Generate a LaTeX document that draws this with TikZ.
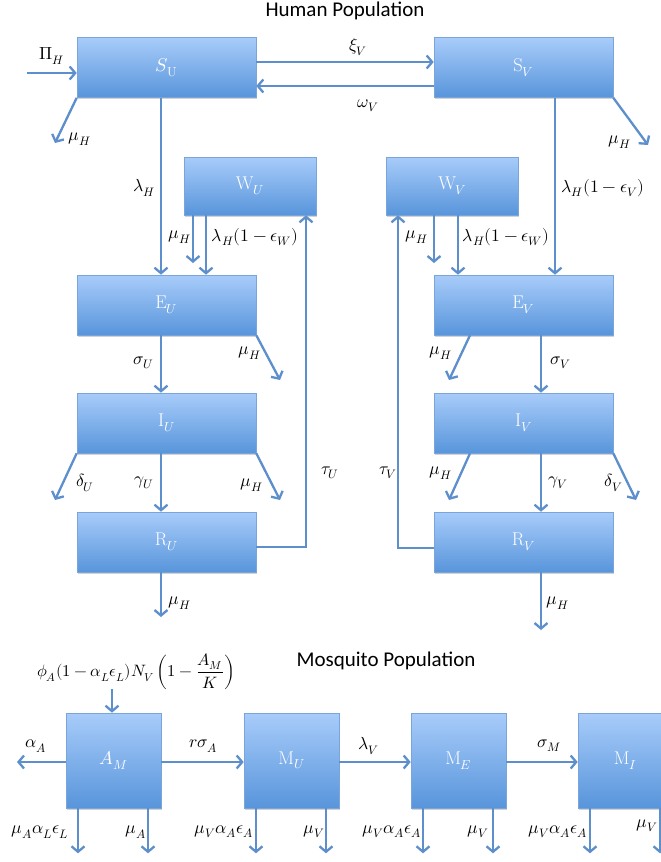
\documentclass[tikz,border=0pt]{standalone}
\usepackage{fontspec}
\usepackage{unicode-math}
\setmathfont{Latin Modern Math}
\newfontfamily\carlito{Carlito}
\usetikzlibrary{arrows.meta,shadows,calc}
\definecolor{boxtop}{HTML}{A8CCFA}
\definecolor{boxbot}{HTML}{5895DB}
\definecolor{boxborder}{HTML}{7AA5DA}
\definecolor{arrc}{HTML}{5C8FCB}
\newcommand\bxfont{\fontsize{18.5}{20}\selectfont}
\newcommand\lbfont{\fontsize{17.5}{19}\selectfont}
\newcommand\fmfont{\fontsize{16.5}{18}\selectfont}
\newcommand\ttlfont{\carlito\fontsize{21}{23}\selectfont}
\begin{document}
\begin{tikzpicture}[x=1pt,y=-1pt,
  box/.style={draw=boxborder, line width=0.6pt, top color=boxtop, bottom color=boxbot,
    minimum width=179pt, minimum height=60pt, inner sep=0pt, font=\bxfont, text=white,
    drop shadow={shadow xshift=0.8pt, shadow yshift=-1.5pt, opacity=0.35}},
  sbox/.style={box, minimum width=132pt, minimum height=58pt},
  mbox/.style={box, minimum width=95pt, minimum height=95pt},
  arr/.style={draw=arrc, line width=2.3pt, -{Straight Barb[length=5.5pt,width=13pt]}},
  lab/.style={font=\lbfont, inner sep=0pt},
  ttl/.style={font=\ttlfont, inner sep=0pt}]
\useasboundingbox (0,0) rectangle (661,862);
\fill[white] (0,0) rectangle (661,862);

% titles
\node[ttl] (t1) at (345,11) {Human Population};
\node[ttl] (t2) at (386,661) {Mosquito Population};

% human boxes
\node[box] (SU) at (166.5,67.5) {$S_{\mathrm{U}}$};
\node[box] (SV) at (523.5,67.5) {S$_V$};
\node[sbox] (WU) at (250,186) {W$_U$};
\node[sbox] (WV) at (452.5,186) {W$_V$};
\node[box] (EU) at (166.5,305) {E$_U$};
\node[box] (EV) at (523.5,305) {E$_V$};
\node[box] (IU) at (166.5,423) {I$_U$};
\node[box] (IV) at (523.5,423) {I$_V$};
\node[box] (RU) at (166.5,542) {R$_U$};
\node[box] (RV) at (523.5,542) {R$_V$};

% mosquito boxes
\node[mbox] (AM) at (113.5,760.5) {$A_M$};
\node[mbox] (MU) at (291.5,760.5) {M$_U$};
\node[mbox] (ME) at (458.5,760.5) {M$_E$};
\node[mbox] (MI) at (625.5,760.5) {M$_I$};

% free ends
\coordinate (pin) at (27,73);
\coordinate (muSU) at (55,143);
\coordinate (muSV) at (648,145);
\coordinate (muWU) at (193,263);
\coordinate (muWV) at (434,263);
\coordinate (muEU) at (280,380);
\coordinate (muEV) at (449,380);
\coordinate (deIU) at (55,500);
\coordinate (muIU) at (280,500);
\coordinate (muIV) at (449,500);
\coordinate (deIV) at (636,500);
\coordinate (muRU) at (161,617);
\coordinate (muRV) at (541,630);
\coordinate (phi) at (112,689);
\coordinate (alA) at (17,762);

% human connectors
\draw[arr] (pin) -- (pin -| SU.west);
\draw[arr] ([yshift=5.5pt]SU.east) -- ([yshift=5.5pt]SU.east -| SV.west);
\draw[arr] ([yshift=-18.5pt]SV.west) -- ([yshift=-18.5pt]SV.west -| SU.east);
\draw[arr] (SU.south west) -- (muSU);
\draw[arr] (SV.south east) -- (muSV);
\draw[arr] ([xshift=-5.5pt]SU.south) -- ([xshift=-5.5pt]EU.north);
\draw[arr] ([xshift=31.5pt]SV.south) -- ([xshift=31.5pt]EV.north);
\draw[arr] ([xshift=-57pt]WU.south) -- (muWU);
\draw[arr] ([xshift=-44pt]WU.south) -- ([xshift=-44pt]WU.south |- EU.north);
\draw[arr] ([xshift=-18.5pt]WV.south) -- (muWV);
\draw[arr] ([xshift=5.5pt]WV.south) -- ([xshift=5.5pt]WV.south |- EV.north);
\draw[arr] (EU.south east) -- (muEU);
\draw[arr] ([xshift=-53.5pt]EV.south) -- (muEV);
\draw[arr] ([xshift=-5.5pt]EU.south) -- ([xshift=-5.5pt]IU.north);
\draw[arr] ([xshift=17.5pt]EV.south) -- ([xshift=17.5pt]IV.north);
\draw[arr] (IU.south west) -- (deIU);
\draw[arr] (IU.south east) -- (muIU);
\draw[arr] ([xshift=-5.5pt]IU.south) -- ([xshift=-5.5pt]RU.north);
\draw[arr] ([xshift=-53.5pt]IV.south) -- (muIV);
\draw[arr] (IV.south east) -- (deIV);
\draw[arr] ([xshift=17.5pt]IV.south) -- ([xshift=17.5pt]RV.north);
\draw[arr] ([xshift=-5.5pt]RU.south) -- (muRU);
\draw[arr] ([xshift=17.5pt]RV.south) -- (muRV);
\draw[arr] ([yshift=-5pt]RU.east) -| ([xshift=56pt]WU.south);
\draw[arr] ([yshift=-6pt]RV.west) -| ([xshift=-54.5pt]WV.south);

% human labels
\node[lab] (lPi) at (52,56) {$\Pi_H$};
\node[lab] (lxi) at (358,47) {$\xi_V$};
\node[lab] (lom) at (368,106) {$\omega_V$};
\node[lab] (l1) at (80,139) {$\mu_H$};
\node[lab] (l2) at (620,142) {$\mu_H$};
\node[lab] (l3) at (144,188) {$\lambda_H$};
\node[lab] (l4) at (603,188) {$\lambda_H(1-\epsilon_V)$};
\node[lab] (l5) at (180,237) {$\mu_H$};
\node[lab] (l6) at (255,237) {$\lambda_H(1-\epsilon_W)$};
\node[lab] (l7) at (417,237) {$\mu_H$};
\node[lab] (l8) at (506,237) {$\lambda_H(1-\epsilon_W)$};
\node[lab] (l9) at (250,353) {$\mu_H$};
\node[lab] (l10) at (441,353) {$\mu_H$};
\node[lab] (l11) at (144,363) {$\sigma_U$};
\node[lab] (l12) at (561,363) {$\sigma_V$};
\node[lab] (l13) at (85,483) {$\delta_U$};
\node[lab] (l14) at (144,483) {$\gamma_U$};
\node[lab] (l15) at (252,485) {$\mu_H$};
\node[lab] (l16) at (330,473) {$\tau_U$};
\node[lab] (l17) at (388,473) {$\tau_V$};
\node[lab] (l18) at (441,473) {$\mu_H$};
\node[lab] (l19) at (558,483) {$\gamma_V$};
\node[lab] (l20) at (614,483) {$\delta_V$};
\node[lab] (l21) at (180,603) {$\mu_H$};
\node[lab] (l22) at (558,603) {$\mu_H$};

% mosquito connectors
\node[lab, font=\fmfont] (form) at (136,672) {$\phi_A(1-\alpha_L\epsilon_L)N_V\left(1-\dfrac{A_M}{K}\right)$};
\draw[arr] (phi) -- (phi |- AM.north);
\draw[arr] (alA -| AM.west) -- (alA);
\draw[arr] ([yshift=-1.5pt]AM.east) -- ([yshift=-1.5pt]MU.west);
\draw[arr] ([yshift=-1.5pt]MU.east) -- ([yshift=-1.5pt]ME.west);
\draw[arr] ([yshift=-1.5pt]ME.east) -- ([yshift=-1.5pt]MI.west);
\foreach \b in {AM,MU,ME,MI}{
  \coordinate (\b-l) at ($(\b.south)+(-35.5,45)$);
  \coordinate (\b-r) at ($(\b.south)+(34.5,45)$);
  \draw[arr] ([xshift=-35.5pt]\b.south) -- (\b-l);
  \draw[arr] ([xshift=34.5pt]\b.south) -- (\b-r);
}

% mosquito labels
\node[lab] (m1) at (36,746) {$\alpha_A$};
\node[lab] (m2) at (203,746) {$r\sigma_A$};
\node[lab] (m3) at (369,746) {$\lambda_V$};
\node[lab] (m4) at (549,746) {$\sigma_M$};
\node[lab] (m5) at (40,832) {$\mu_A\alpha_L\epsilon_L$};
\node[lab] (m6) at (136,832) {$\mu_A$};
\node[lab] (m7) at (224,832) {$\mu_V\alpha_A\epsilon_A$};
\node[lab] (m8) at (314,832) {$\mu_V$};
\node[lab] (m9) at (392,832) {$\mu_V\alpha_A\epsilon_A$};
\node[lab] (m10) at (478,832) {$\mu_V$};
\node[lab] (m11) at (558,832) {$\mu_V\alpha_A\epsilon_A$};
\node[lab] (m12) at (647,826) {$\mu_V$};
\end{tikzpicture}
\end{document}
